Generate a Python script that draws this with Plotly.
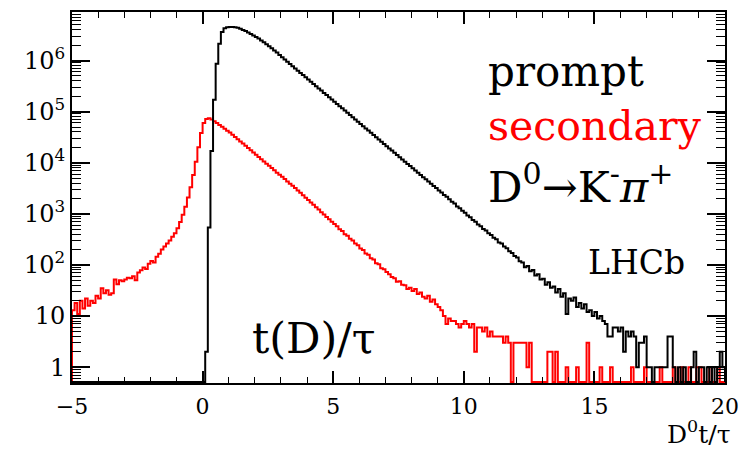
import numpy as np
import plotly.graph_objects as go

# Decay-time histograms, 0.1-wide bins from -5 to 20 (250 bins), one row per unit of t/tau
prompt_counts = [
    # -5 .. -1 : empty
    0, 0, 0, 0, 0, 0, 0, 0, 0, 0,
    0, 0, 0, 0, 0, 0, 0, 0, 0, 0,
    0, 0, 0, 0, 0, 0, 0, 0, 0, 0,
    0, 0, 0, 0, 0, 0, 0, 0, 0, 0,
    0, 0, 0, 0, 0, 0, 0, 0, 0, 0,
    # 0
    0, 2, 540, 17000, 170000, 870000, 2140000, 3630000, 4270000, 4470000,
    # 1
    4520000, 4520000, 4470000, 4370000, 4170000, 3980000, 3800000, 3550000, 3310000, 3090000,
    # 2
    2880000, 2690000, 2480000, 2290000, 2090000, 1910000, 1740000, 1580000, 1430000, 1290000,
    # 3
    1160000, 1050000, 944000, 854000, 773000, 700000, 633000, 573000, 519000, 469000,
    # 4
    425000, 384000, 348000, 315000, 285000, 258000, 233000, 211000, 191000, 173000,
    # 5
    156000, 141000, 128000, 116000, 105000, 95000, 86000, 78000, 70000, 63500,
    # 6
    57500, 52000, 47000, 42600, 38500, 34900, 31500, 28500, 25800, 23400,
    # 7
    21100, 19100, 17300, 15700, 14200, 12800, 11600, 10500, 9500, 8600,
    # 8
    7800, 7050, 6380, 5770, 5220, 4730, 4280, 3870, 3500, 3200,
    # 9
    2850, 2620, 2330, 2150, 1930, 1720, 1590, 1400, 1290, 1150,
    # 10
    1050, 930, 860, 760, 700, 620, 575, 505, 470, 415,
    # 11
    385, 340, 320, 275, 262, 230, 212, 185, 172, 150,
    # 12
    140, 118, 112, 90, 95, 75, 80, 62, 66, 52,
    # 13
    54, 41, 46, 36, 38, 29, 34, 24, 28, 11,
    # 14
    22, 20, 23, 15, 18, 14, 17, 12, 13, 10,
    # 15
    12, 9, 10, 8, 7, 4, 4, 6, 6, 5,
    # 16
    6, 2, 5, 4, 5, 4, 1, 3, 3, 4,
    # 17
    1, 1, 0, 1, 1, 1, 1, 1, 4, 4,
    # 18
    1, 0, 1, 0, 1, 0, 0, 1, 2, 0,
    # 19
    1, 1, 0, 1, 0, 1, 0, 1, 2, 1,
]

secondary_counts = [
    # -5
    13, 18, 11, 20, 14, 22, 16, 20, 18, 25,
    # -4
    22, 35, 28, 32, 26, 28, 52, 42, 50, 48,
    # -3
    52, 56, 55, 60, 50, 71, 79, 89, 83, 105,
    # -2
    120, 112, 145, 166, 200, 229, 263, 302, 355, 417,
    # -1
    525, 692, 955, 1380, 2090, 3310, 5750, 10500, 20000, 38000,
    # 0
    60000, 72000, 74000, 70000, 65000, 60000, 55000, 50500, 46500, 42500,
    # 1
    39000, 35300, 31900, 28900, 26100, 23700, 21400, 19400, 17500, 15900,
    # 2
    14300, 13000, 11700, 10600, 9600, 8700, 7900, 7100, 6400, 5800,
    # 3
    5300, 4800, 4300, 3900, 3550, 3200, 2870, 2580, 2310, 2070,
    # 4
    1860, 1670, 1500, 1340, 1210, 1080, 970, 870, 780, 700,
    # 5
    630, 575, 500, 462, 400, 372, 325, 300, 262, 242,
    # 6
    210, 196, 168, 158, 135, 128, 108, 103, 86, 82,
    # 7
    73, 66, 58, 55, 47, 48, 41, 40, 34, 36,
    # 8
    31, 34, 27, 29, 24, 22, 25, 19, 21, 17,
    # 9
    15, 13, 10, 7, 9, 8, 8, 7, 6, 7,
    # 10
    8, 7, 6, 7, 2, 6, 6, 5, 6, 4,
    # 11
    5, 4, 4, 4, 4, 3, 4, 3, 0, 3,
    # 12
    3, 3, 3, 3, 1, 3, 0, 0, 0, 0,
    # 13
    0, 0, 2, 2, 0, 2, 0, 0, 0, 1,
    # 14
    0, 0, 0, 1, 0, 0, 0, 3, 0, 0,
    # 15
    0, 0, 1, 0, 0, 0, 1, 0, 0, 0,
    # 16
    0, 0, 0, 0, 1, 0, 0, 0, 0, 1,
    # 17
    0, 0, 0, 0, 0, 1, 0, 0, 0, 0,
    # 18
    1, 0, 0, 1, 0, 0, 1, 0, 0, 1,
    # 19
    1, 0, 0, 0, 1, 0, 0, 1, 0, 0,
]

x_ticks = [-5, 0, 5, 10, 15, 20]
y_ticks = [1, 10, 100, 1000, 10000, 100000, 1000000]
y_tick_text = ["1", "10", "10<sup>2</sup>", "10<sup>3</sup>", "10<sup>4</sup>",
               "10<sup>5</sup>", "10<sup>6</sup>"]

X_RANGE = [-5, 20]
LOG_Y_RANGE = [-0.31, 6.95]
edges = np.linspace(X_RANGE[0], X_RANGE[1], len(prompt_counts) + 1)
# empty bins are drawn along the bottom of the frame, as ROOT does
floor = 10 ** (LOG_Y_RANGE[0] + 0.02)


def step_outline(counts):
    y = [c if c > 0 else floor for c in counts]
    xs = [edges[0]] + list(edges) + [edges[-1]]
    ys = [floor] + y + [y[-1], floor]
    return xs, ys


SERIF = "DejaVu Serif"
fig = go.Figure()
for counts, colour in [(secondary_counts, "#ff0000"), (prompt_counts, "#000000")]:
    xs, ys = step_outline(counts)
    fig.add_trace(go.Scatter(x=xs, y=ys, mode="lines", line_shape="hv",
                             line=dict(color=colour, width=2), hoverinfo="skip"))

axis_common = dict(showline=True, linecolor="black", linewidth=2, mirror="allticks",
                   ticks="inside", tickcolor="black", tickwidth=1.5,
                   showgrid=False, zeroline=False)

fig.update_xaxes(range=X_RANGE, tickmode="array", tickvals=x_ticks, ticklen=12,
                 ticklabelstandoff=3,
                 tickfont=dict(family=SERIF, size=22, color="black"),
                 minor=dict(dtick=1, tick0=0, ticks="inside", ticklen=6,
                            tickcolor="black", tickwidth=1.2, showgrid=False),
                 **axis_common)
fig.update_yaxes(type="log", range=LOG_Y_RANGE, tickmode="array", tickvals=y_ticks,
                 ticktext=y_tick_text, ticklen=18,
                 tickfont=dict(family=SERIF, size=24, color="black"),
                 minor=dict(dtick="D1", ticks="inside", ticklen=9,
                            tickcolor="black", tickwidth=1.2, showgrid=False),
                 **axis_common)

W, H = 749, 450
L, R, T, B = 72, 17, 10, 67
pw, ph = W - L - R, H - T - B


def px(xp):
    return (xp - L) / pw


def py(yp):
    return (H - B - yp) / ph


labels = [
    ("prompt", 490, 70, 42, "black", "left", "middle"),
    ("secondary", 490, 125, 41, "#ff0000", "left", "middle"),
    ("D<sup>0</sup>→K<sup>-</sup><i>π</i><sup>+</sup>", 490, 183, 43, "black", "left", "middle"),
    ("LHCb", 592, 262, 33, "black", "left", "middle"),
    ("t(D)/τ", 252, 338, 43, "black", "left", "middle"),
    ("D<sup>0</sup>t/τ", 740, 451, 25, "black", "right", "bottom"),
]
for text, xp, yp, size, colour, xanchor, yanchor in labels:
    fig.add_annotation(text=text, x=px(xp), y=py(yp), xref="paper", yref="paper",
                       xanchor=xanchor, yanchor=yanchor, showarrow=False,
                       font=dict(family=SERIF, size=size, color=colour))

fig.update_layout(width=W, height=H, margin=dict(l=L, r=R, t=T, b=B),
                  plot_bgcolor="white", paper_bgcolor="white", showlegend=False)

fig.write_html("out.html")
